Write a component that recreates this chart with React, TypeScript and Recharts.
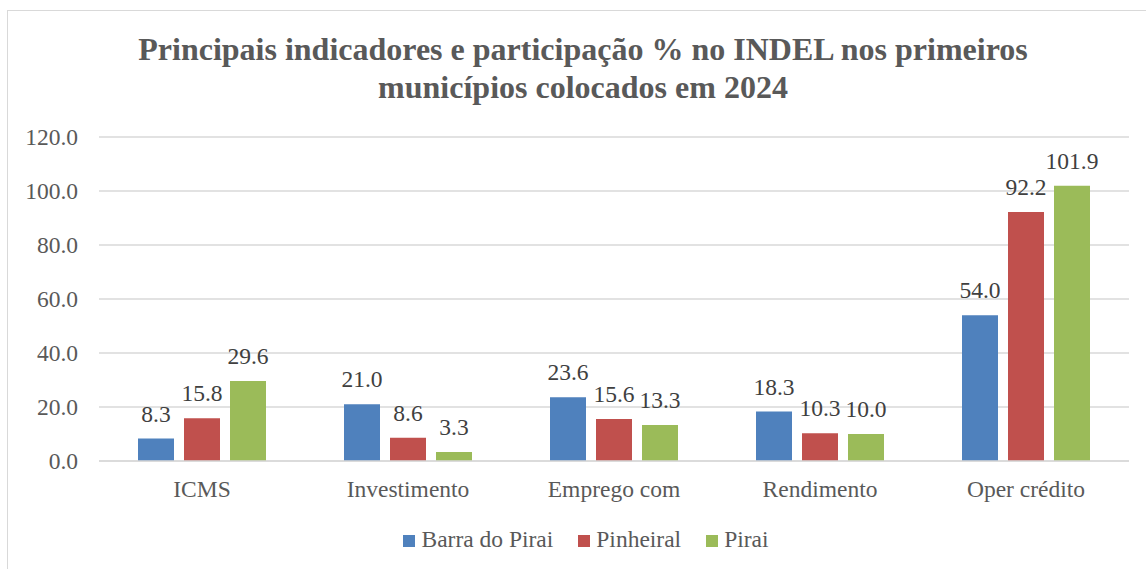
import React from 'react';
import { BarChart, Bar, XAxis, YAxis, CartesianGrid, LabelList } from 'recharts';

const categories = ['ICMS', 'Investimento', 'Emprego com', 'Rendimento', 'Oper crédito'];
const barraDoPirai = [8.3, 21.0, 23.6, 18.3, 54.0];
const pinheiral = [15.8, 8.6, 15.6, 10.3, 92.2];
const pirai = [29.6, 3.3, 13.3, 10.0, 101.9];
const yTicks = [0, 20, 40, 60, 80, 100, 120];

const series = [
  { key: 'barra', name: 'Barra do Pirai', values: barraDoPirai, color: '#4F81BD' },
  { key: 'pinheiral', name: 'Pinheiral', values: pinheiral, color: '#C0504D' },
  { key: 'pirai', name: 'Pirai', values: pirai, color: '#9BBB59' },
];

const data = categories.map((c, i) => {
  const row: Record<string, string | number> = { name: c };
  series.forEach(s => {
    row[s.key] = s.values[i];
  });
  return row;
});

const font = '"Liberation Serif", "Times New Roman", serif';
const fmt = (v: number) => Number(v).toFixed(1);

export default function App() {
  return (
    <div style={{ position: 'absolute', left: 0, top: 0, width: 1146, height: 569, background: '#fff', overflow: 'hidden', fontFamily: font }}>
      <style>{`.recharts-wrapper text, .recharts-text { font-family: ${font}; }`}</style>
      <div style={{ position: 'absolute', left: 7, top: 10, width: 1160, height: 580, border: '1px solid #D9D9D9', boxSizing: 'border-box' }} />
      <div style={{ position: 'absolute', left: 0, top: 30, width: 1166, textAlign: 'center', fontWeight: 'bold', fontSize: 32, lineHeight: '38px', color: '#595959' }}>
        Principais indicadores e participação % no INDEL nos primeiros
        <br />
        municípios colocados em 2024
      </div>
      <div style={{ position: 'absolute' }}>
        <BarChart width={1146} height={569} data={data} margin={{ top: 137, right: 17, bottom: 78, left: 0 }} barGap={10} barSize={36} style={{ fontFamily: font }}>
          <CartesianGrid vertical={false} stroke="#D9D9D9" strokeWidth={1.5} />
          <XAxis
            dataKey="name"
            height={30}
            tickLine={false}
            axisLine={{ stroke: '#D9D9D9', strokeWidth: 1.5 }}
            tickMargin={13}
            tick={{ fill: '#595959', fontSize: 23.5 }}
            interval={0}
          />
          <YAxis
            width={99}
            domain={[0, 120]}
            ticks={yTicks}
            tickFormatter={fmt}
            tickLine={false}
            axisLine={false}
            tickMargin={15}
            tick={{ fill: '#595959', fontSize: 23.5 }}
          />
          {series.map(s => (
            <Bar key={s.key} dataKey={s.key} name={s.name} fill={s.color} isAnimationActive={false}>
              <LabelList dataKey={s.key} position="top" offset={17} formatter={(v: any) => fmt(v)} style={{ fill: '#404040', fontSize: 23.5 }} />
            </Bar>
          ))}
        </BarChart>
      </div>
      <div style={{ position: 'absolute', left: 0, top: 526, width: 1172, display: 'flex', justifyContent: 'center', alignItems: 'center', fontSize: 23.5, color: '#595959' }}>
        {series.map((s, i) => (
          <div key={s.key} style={{ display: 'flex', alignItems: 'center', marginRight: i < series.length - 1 ? 25 : 0 }}>
            <span style={{ display: 'inline-block', width: 12, height: 12, background: s.color, marginRight: 6, marginTop: 3 }} />
            <span>{s.name}</span>
          </div>
        ))}
      </div>
    </div>
  );
}
